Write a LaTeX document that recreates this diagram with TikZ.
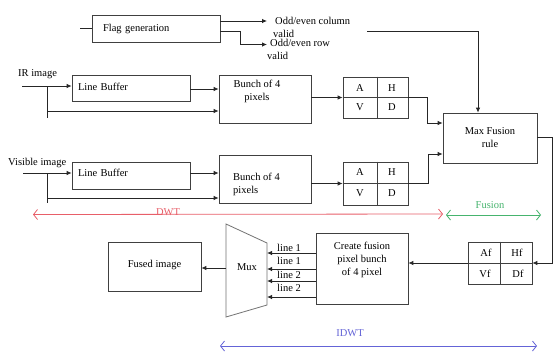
\documentclass[tikz,border=0pt]{standalone}
\usepackage{fontspec}
\setmainfont{Liberation Serif}
\usetikzlibrary{arrows.meta,calc}
\definecolor{dwtc}{RGB}{232,95,105}
\definecolor{fusc}{RGB}{70,180,110}
\definecolor{idwc}{RGB}{100,100,215}
\begin{document}
\begin{tikzpicture}[x=1pt,y=-1pt,
  every node/.style={font=\fontsize{10.5}{13}\selectfont},
  box/.style={draw=black!75, line width=0.7pt, inner sep=0pt},
  wire/.style={draw=black!85, line width=0.8pt},
  arr/.style={wire,-{Latex[length=5pt,width=4.5pt]}},
  txt/.style={inner sep=0pt},
  span/.style={line width=0.8pt,{Straight Barb[length=4pt,width=10pt]}-{Straight Barb[length=4pt,width=10pt]}},
]
\useasboundingbox[fill=white] (0,0) rectangle (554,360);

% ---------- boxes ----------
\node[box, text width=106pt, inner xsep=11pt, minimum height=27pt, align=left] (flag) at (156,28.5) {Flag generation};
\node[box, text width=106pt, inner xsep=6pt, minimum height=26pt, align=left, text height=7pt, text depth=2.5pt] (lb1) at (131,88) {Line Buffer};
\node[box, text width=106pt, inner xsep=6pt, minimum height=27pt, align=left, text height=7pt, text depth=6pt] (lb2) at (131,175.5) {Line Buffer};
\node[box, minimum width=92pt, minimum height=48pt] (bunch1) at (265,99) {};
\node[txt, align=center] (b1t) at (257,91.5) {Bunch of 4\\pixels};
\node[box, minimum width=92pt, minimum height=48pt] (bunch2) at (265,179) {};
\node[txt, align=left, anchor=west] (b2t) at (233,184.5) {Bunch of 4\\pixels};

% A H V D boxes
\node[box, minimum width=65pt, minimum height=41pt] (q1) at (375.5,97.5) {};
\draw[box] ($(q1.north)+(1.5,0)$) -- ($(q1.south)+(1.5,0)$);
\draw[box] (q1.west) -- (q1.east);
\node[txt] (q1a) at (360,88) {A};
\node[txt] (q1h) at (392,88) {H};
\node[txt] (q1v) at (360,107.5) {V};
\node[txt] (q1d) at (392,107.5) {D};

\node[box, minimum width=65pt, minimum height=43pt] (q2) at (375.5,183.5) {};
\draw[box] ($(q2.north)+(1.5,0)$) -- ($(q2.south)+(1.5,0)$);
\draw[box] (q2.west) -- (q2.east);
\node[txt] (q2a) at (360,172.5) {A};
\node[txt] (q2h) at (392,172.5) {H};
\node[txt] (q2v) at (360,193) {V};
\node[txt] (q2d) at (392,193) {D};

\node[box, minimum width=94pt, minimum height=50pt, align=center] (mf) at (490,138) {Max Fusion\\rule};

\node[box, minimum width=64pt, minimum height=42pt] (qf) at (500,263) {};
\draw[box] (qf.north) -- (qf.south);
\draw[box] (qf.west) -- (qf.east);
\node[txt] (qfa) at (486,252.5) {Af};
\node[txt] (qfh) at (517,252.5) {Hf};
\node[txt] (qfv) at (485,273.5) {Vf};
\node[txt] (qfd) at (518,273.5) {Df};

\node[box, minimum width=92pt, minimum height=71pt] (cf) at (362,268.5) {};
\node[txt, align=center] (cft) at (362,260) {Create fusion\\pixel bunch\\of 4 pixel};

\node[box, minimum width=93pt, minimum height=49pt, text height=7pt, text depth=6pt] (fused) at (154.5,266.5) {Fused image};

% Mux trapezoid
\coordinate (m1) at (226,224);
\coordinate (m2) at (267,243);
\coordinate (m3) at (267,305);
\coordinate (m4) at (226,317);
\draw[draw=black!55, line width=0.8pt] (m1) -- (m2) -- (m3) -- (m4) -- cycle;
\node[txt] (mux) at (247,267) {Mux};

% ---------- texts ----------
\node[txt, anchor=base west] (col1) at (275,24) {Odd/even column};
\node[txt, anchor=base west] (col2) at (273,37) {valid};
\node[txt, anchor=base west] (row1) at (270,46.5) {Odd/even row};
\node[txt, anchor=base west] (row2) at (267,59.5) {valid};
\node[txt, anchor=base west] (irl) at (18,76) {IR image};
\node[txt, anchor=base west] (visl) at (8,165) {Visible image};
\node[txt, anchor=base west] (l1a) at (277,251.5) {line 1};
\node[txt, anchor=base west] (l1b) at (277,264.5) {line 1};
\node[txt, anchor=base west] (l2a) at (277,278) {line 2};
\node[txt, anchor=base west] (l2b) at (277,291) {line 2};

% ---------- connectors ----------
\coordinate (fin) at (80,28.5);
\draw[wire] (fin) -- (flag.west);
\coordinate (ct) at (267,21);
\draw[arr] (flag.east |- ct) -- (ct);
\coordinate (rt) at (267,44.5);
\draw[arr] ($(flag.east)+(0,2.5)$) -- ++(20,0) |- (rt);
\coordinate (cv) at (367,31);
\draw[arr] (cv) -| ($(mf.north)+(-12,0)$);

% IR path
\coordinate (ir) at (22,86);
\coordinate (j1) at (47,86);
\coordinate (j1b) at (47,118);
\coordinate (t1) at (47,111);
\draw[arr] (ir) -- (ir -| lb1.west);
\draw[wire] (j1) -- (j1b);
\draw[arr] (t1) -- (t1 -| bunch1.west);
\draw[arr] ($(lb1.east)+(0,1)$) -- ($(bunch1.west)+(0,-10)$);
\draw[arr] (bunch1.east |- q1.west) -- (q1.west);
\draw[arr] (q1.east) -- ++(19,0) |- ($(mf.west)+(0,-15)$);

% Visible path
\coordinate (vi) at (23,173);
\coordinate (j2) at (47,173);
\coordinate (j2b) at (47,203);
\coordinate (t2) at (47,198);
\draw[arr] (vi) -- (vi -| lb2.west);
\draw[wire] (j2) -- (j2b);
\draw[arr] (t2) -- (t2 -| bunch2.west);
\draw[arr] ($(lb2.east)+(0,-2.5)$) -- ($(bunch2.west)+(0,-6)$);
\draw[arr] (bunch2.east |- q2.west) -- (q2.west);
\draw[arr] (q2.east) -- ++(20,0) |- ($(mf.west)+(0,16)$);

% fusion to IDWT
\draw[arr] ($(mf.east)+(0,-1)$) -- ++(15,0) |- (qf.east);
\draw[arr] (qf.west) -- (qf.west -| cf.east);
\foreach \yy in {253,269,281,297} {
  \draw[arr] (cf.west |- 0,\yy) -- (m2 |- 0,\yy);
}
\coordinate (ml) at (226,268);
\draw[arr] (ml) -- (ml -| fused.east);

% ---------- spans ----------
\coordinate (d1) at (33,214.5);
\coordinate (d2) at (443,214);
\draw[span, dwtc] (d1) -- (d2);
\node[txt, text=dwtc] (dwtl) at (168,212) {DWT};
\coordinate (f1) at (446,215);
\coordinate (f2) at (541,215);
\draw[span, fusc] (f1) -- (f2);
\node[txt, text=fusc] (fusl) at (490,205) {Fusion};
\coordinate (i1) at (220,346);
\coordinate (i2) at (537,346);
\draw[span, idwc] (i1) -- (i2);
\node[txt, text=idwc] (idwl) at (350,333) {IDWT};
\end{tikzpicture}
\end{document}
